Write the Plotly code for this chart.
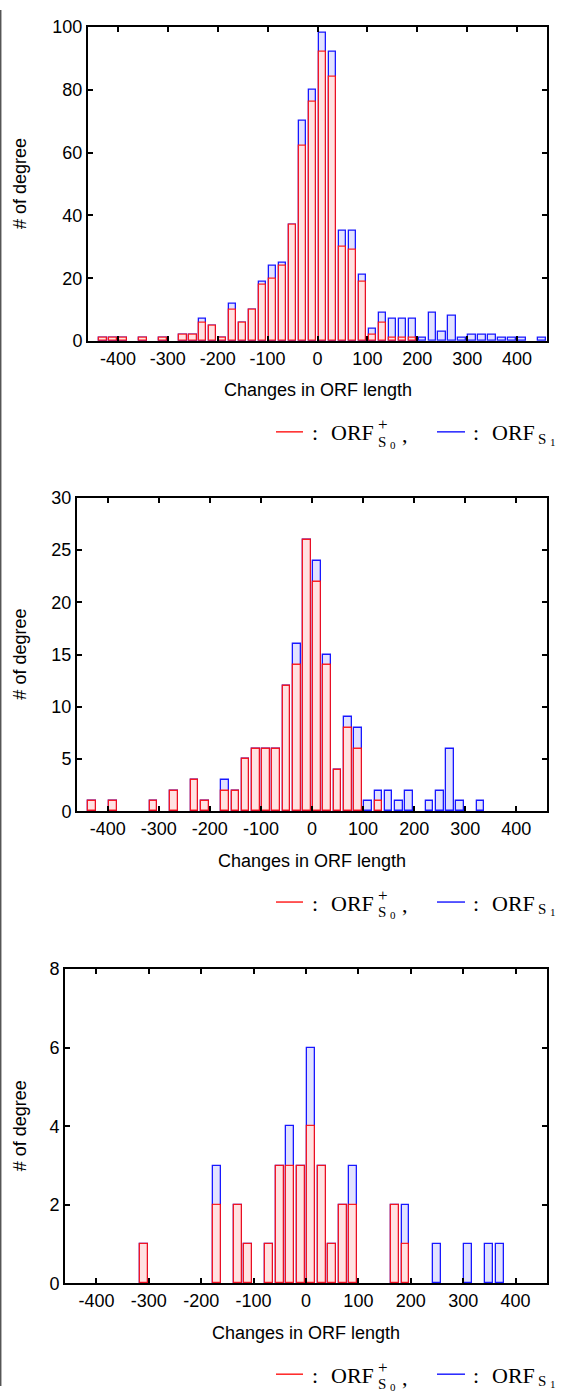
import plotly.graph_objects as go

# ---------------- data ----------------
tick_vals = [-400, -300, -200, -100, 0, 100, 200, 300, 400]
tick_text = ["-400", "-300", "-200", "-100", "0", "100", "200", "300", "400"]

centers1 = [-430, -410, -390, -350, -310, -270, -250, -230, -210, -190, -170, -150, -130, -110,
            -90, -70, -50, -30, -10, 10, 30, 50, 70, 90, 110, 130, 150, 170, 190, 210, 230,
            250, 270, 290, 310, 330, 350, 370, 390, 410, 450]
blue1 = [1, 1, 1, 1, 1, 2, 2, 7, 5, 1, 12, 6, 10, 19, 24, 25, 37, 70, 80, 98, 92, 35, 35, 21,
         4, 9, 7, 7, 7, 1, 9, 3, 8, 1, 2, 2, 2, 1, 1, 1, 1]
red1 = [1, 1, 1, 1, 1, 2, 2, 6, 5, 1, 10, 6, 10, 18, 20, 24, 37, 62, 76, 92, 84, 30, 29, 19,
        2, 6, 1, 1, 1, 0, 0, 0, 0, 0, 0, 0, 0, 0, 0, 0, 0]

centers2 = [-430, -390, -310, -270, -230, -210, -170, -150, -130, -110, -90, -70, -50, -30, -10,
            10, 30, 50, 70, 90, 110, 130, 150, 170, 190, 230, 250, 270, 290, 330]
blue2 = [1, 1, 1, 2, 3, 1, 3, 2, 5, 6, 6, 6, 12, 16, 26, 24, 15, 4, 9, 8, 1, 2, 2, 1, 2, 1, 2, 6, 1, 1]
red2 = [1, 1, 1, 2, 3, 1, 2, 2, 5, 6, 6, 6, 12, 14, 26, 22, 14, 4, 8, 6, 0, 1, 0, 0, 0, 0, 0, 0, 0, 0]

centers3 = [-310, -170, -130, -110, -70, -50, -30, -10, 10, 30, 50, 70, 90, 170, 190, 250, 310, 350, 370]
blue3 = [1, 3, 2, 1, 1, 3, 4, 3, 6, 3, 1, 2, 3, 2, 2, 1, 1, 1, 1]
red3 = [1, 2, 2, 1, 1, 3, 3, 3, 4, 3, 1, 2, 2, 2, 1, 0, 0, 0, 0]

y_max = [100, 30, 8]
y_step = [20, 5, 2]

x_title = "Changes in ORF length"
y_title = "# of degree"

# ---------------- layout geometry (pixels) ----------------
W, H = 568, 1396
panels = [
    dict(left=88, right=547, top=17, bottom=336),
    dict(left=77, right=547, top=495, bottom=813),
    dict(left=65, right=547, top=973, bottom=1292),
]


def px(x):
    return x / W


def py(y):
    return 1 - y / H


SANS = "Liberation Sans, Arial, sans-serif"
SERIF = "Liberation Serif, Times New Roman, serif"

fig = go.Figure()

data = [(centers1, blue1, red1), (centers2, blue2, red2), (centers3, blue3, red3)]
for i, (cx, bv, rv) in enumerate(data):
    ax = "" if i == 0 else str(i + 1)
    fig.add_trace(go.Bar(
        x=cx, y=bv, width=15, xaxis="x" + ax, yaxis="y" + ax,
        marker=dict(color="#e2e2ff", line=dict(color="rgba(0,0,255,0.9)", width=1.3)),
        showlegend=False, hoverinfo="x+y"))
    rx = [c for c, v in zip(cx, rv) if v > 0]
    ry = [v for v in rv if v > 0]
    fig.add_trace(go.Bar(
        x=rx, y=ry, width=15, xaxis="x" + ax, yaxis="y" + ax,
        marker=dict(color="#ffe2e2", line=dict(color="rgba(255,0,0,0.85)", width=1.3)),
        showlegend=False, hoverinfo="x+y"))

layout = dict(
    width=W, height=H, autosize=False,
    margin=dict(l=0, r=0, t=0, b=0),
    paper_bgcolor="white", plot_bgcolor="white",
    barmode="overlay", bargap=0,
    font=dict(family=SANS, size=18, color="black"),
    annotations=[], shapes=[],
)

for i, p in enumerate(panels):
    ax = "" if i == 0 else str(i + 1)
    layout["xaxis" + ax] = dict(
        domain=[px(p["left"]), px(p["right"])], anchor="y" + ax,
        range=[-460, 460], tickmode="array", tickvals=tick_vals, ticktext=tick_text,
        ticks="inside", ticklen=5, tickwidth=1.5, tickcolor="black",
        showline=True, linecolor="black", linewidth=2, mirror="ticks",
        showgrid=False, zeroline=False, tickfont=dict(family=SANS, size=18),
    )
    layout["yaxis" + ax] = dict(
        domain=[py(p["bottom"]), py(p["top"])], anchor="x" + ax,
        range=[0, y_max[i]], tickmode="linear", tick0=0, dtick=y_step[i],
        ticks="inside", ticklen=5, tickwidth=1.5, tickcolor="black",
        showline=True, linecolor="black", linewidth=2, mirror="ticks",
        showgrid=False, zeroline=False, tickfont=dict(family=SANS, size=18),
    )
    # axis titles
    layout["annotations"].append(dict(
        text=x_title, xref="paper", yref="paper",
        x=px((p["left"] + p["right"]) / 2), y=py(p["bottom"] + 50),
        xanchor="center", yanchor="middle", showarrow=False,
        font=dict(family=SANS, size=18)))
    layout["annotations"].append(dict(
        text=y_title, xref="paper", yref="paper",
        x=px(20), y=py((p["top"] + p["bottom"]) / 2), textangle=-90,
        xanchor="center", yanchor="middle", showarrow=False,
        font=dict(family=SANS, size=18)))

    # legend line
    ly = p["bottom"] + 92

    def txt(s, x, y, size, anchor="left"):
        layout["annotations"].append(dict(
            text=s, xref="paper", yref="paper", x=px(x), y=py(y),
            xanchor=anchor, yanchor="middle", showarrow=False,
            font=dict(family=SERIF, size=size, color="black")))

    layout["shapes"].append(dict(type="line", xref="paper", yref="paper",
                                 x0=px(276), x1=px(303), y0=py(ly), y1=py(ly),
                                 line=dict(color="red", width=1.3)))
    layout["shapes"].append(dict(type="line", xref="paper", yref="paper",
                                 x0=px(437), x1=px(465), y0=py(ly), y1=py(ly),
                                 line=dict(color="blue", width=1.3)))
    txt(":", 315, ly + 1, 22, "center")
    txt("ORF", 329, ly + 1, 22)
    txt("+", 376, ly - 7, 17)
    txt("S", 376, ly + 10, 15)
    txt("0", 388, ly + 13, 11)
    txt(",", 400, ly + 3, 22)
    txt(":", 476, ly + 1, 22, "center")
    txt("ORF", 490, ly + 1, 22)
    txt("S", 536, ly + 7, 15)
    txt("1", 548, ly + 10, 11)

# left page border
layout["shapes"].append(dict(type="line", xref="paper", yref="paper",
                             x0=px(0.7), x1=px(0.7), y0=0, y1=1,
                             line=dict(color="#555555", width=1.5)))

fig.update_layout(**layout)
fig.write_html("out.html", config={"displayModeBar": False},
               post_script="document.body.style.margin='0';document.body.style.overflow='hidden';")
